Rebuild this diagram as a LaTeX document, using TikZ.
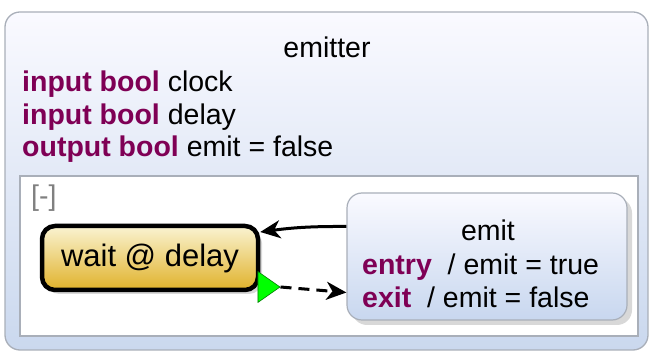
\documentclass[tikz,border=0pt]{standalone}
\usepackage{fontspec}
\setmainfont{Liberation Sans}
\usetikzlibrary{arrows.meta,shadows,shapes.geometric}
\definecolor{kwcol}{HTML}{7F0055}
\definecolor{rim}{HTML}{A9AFB9}
\newcommand{\kw}[1]{\textcolor{kwcol}{\textbf{#1}}}

\begin{document}
\begin{tikzpicture}[x=1pt,y=-1pt,>={Stealth[length=20pt,width=18pt,inset=6pt]},
  font=\fontsize{28.5}{32.5}\selectfont,
  region/.style={draw=rim,line width=1.3pt,rounded corners=15pt,shading=axis,top color=blue!2,bottom color={rgb,255:red,202;green,216;blue,238}},
  st/.style={rounded corners=13pt,minimum width=216pt,minimum height=64pt,draw=black,line width=4.5pt,
    font=\fontsize{31}{34}\selectfont,
    top color={rgb,255:red,250;green,243;blue,210},bottom color={rgb,255:red,224;green,178;blue,42},
    drop shadow={shadow xshift=4pt,shadow yshift=-4pt,opacity=0.3}},
  sup/.style={rounded corners=15pt,minimum width=280pt,minimum height=127pt,draw=rim,line width=1.2pt,
    top color=blue!2,bottom color={rgb,255:red,200;green,215;blue,239},
    drop shadow={shadow xshift=5pt,shadow yshift=-5pt,opacity=0.3}}]
  \useasboundingbox (0,0) rectangle (651,352);
  \node[region,minimum width=643pt,minimum height=338pt] (emitter) at (326.5,181) {};
  \node (title) at (327,47) {emitter};
  \node[align=left,anchor=north west,inner sep=0pt] (decl) at (22,71) {\kw{input bool} clock\\\kw{input bool} delay\\\kw{output bool} emit = false};
  \draw[draw=rim,line width=1.2pt,fill=white] (20,176) rectangle (638,336);
  \node[text=gray,anchor=north west,inner sep=0pt] (collapse) at (31,185) {[-]};
  \node[st] (wait) at (150,258) {wait @ delay};
  \node[sup] (emit) at (487,256.5) {};
  \node (emitname) at (488,230) {emit};
  \node[align=left,anchor=west,inner sep=0pt] (acts) at (362,281) {\kw{entry}~ / emit = true\\\kw{exit}~ / emit = false};
  \node[isosceles triangle,isosceles triangle apex angle=70,fill=green,draw=green!50!black,line width=0.6pt,
    inner sep=0pt,minimum height=22pt,minimum width=20pt] (mark) at (266,287) {};
  \draw[->,line width=3pt] ([yshift=30pt]emit.west) to[bend right=4] ([yshift=26pt]wait.east);
  \draw[->,line width=3pt,dash pattern=on 11pt off 7pt] (mark.east) -- ([yshift=-36pt]emit.west);
\end{tikzpicture}
\end{document}
